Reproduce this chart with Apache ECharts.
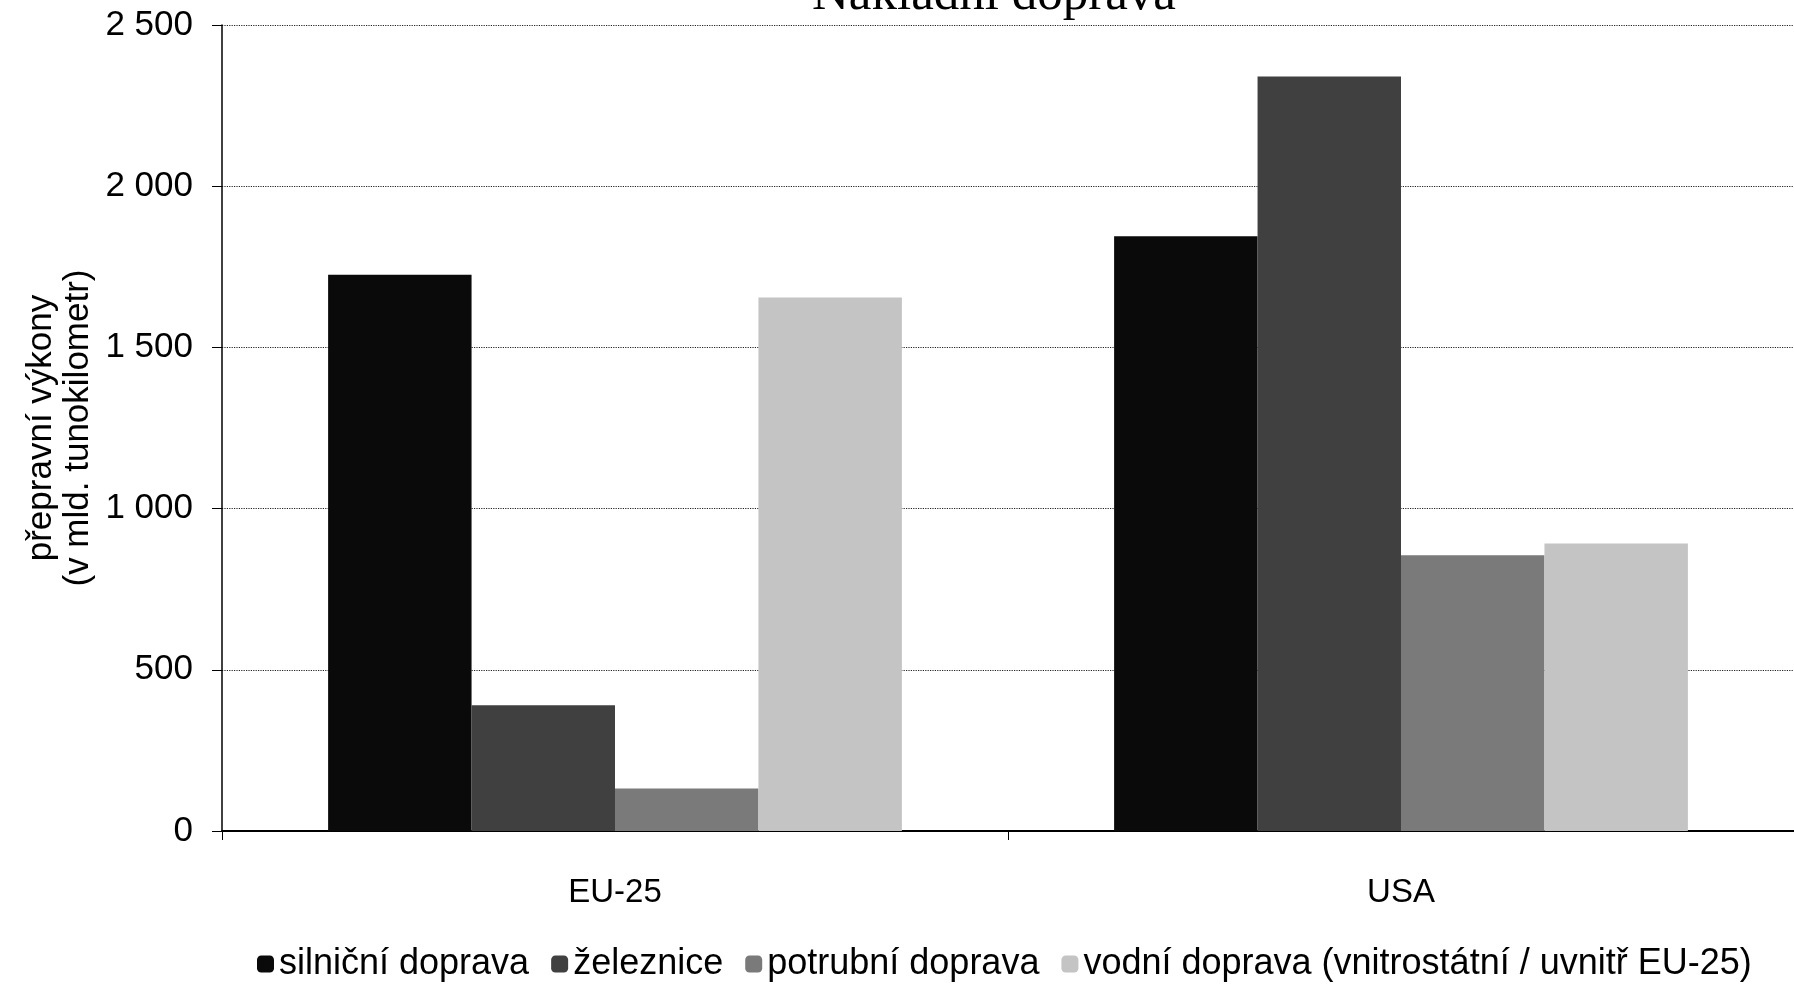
<!DOCTYPE html>
<html><head><meta charset="utf-8">
<script src="https://cdn.jsdelivr.net/npm/echarts@6/dist/echarts.min.js"></script>
<style>html,body{margin:0;padding:0;background:#fff}#c{width:1794px;height:985px}</style>
</head><body><div id="c"></div>
<script>
const categories = ['EU-25', 'USA'];
const seriesNames = ['silniční doprava', 'železnice', 'potrubní doprava', 'vodní doprava (vnitrostátní / uvnitř EU-25)'];
const silnicni = [1725, 1845];
const zeleznice = [390, 2340];
const potrubni = [132, 855];
const vodni = [1655, 892];
const seriesColors = ['#0a0a0a', '#404040', '#7a7a7a', '#c4c4c4'];
const yTicks = [0, 500, 1000, 1500, 2000, 2500];

const values = [silnicni, zeleznice, potrubni, vodni];
const font = 'Liberation Sans, Arial, sans-serif';
const chart = echarts.init(document.getElementById('c'));
chart.setOption({
  animation: false,
  title: {
    text: 'Nákladní doprava', left: 994, textAlign: 'center', top: -30, padding: 0,
    textStyle: {fontFamily: 'Liberation Serif, serif', fontSize: 51, fontWeight: 'normal', color: '#000'}
  },
  legend: {
    bottom: 3, left: 257, padding: 0, itemWidth: 17, itemHeight: 17, itemGap: 22,
    textStyle: {fontFamily: font, fontSize: 36, color: '#000'},
    data: seriesNames
  },
  grid: {left: 222, right: 0, top: 25, bottom: 154, containLabel: false, outerBoundsMode: 'none'},
  xAxis: {
    type: 'category', data: categories,
    axisLine: {lineStyle: {color: '#000', width: 2}},
    axisTick: {show: true, length: 9, lineStyle: {color: '#000'}},
    axisLabel: {fontFamily: font, fontSize: 33, color: '#000', margin: 45}
  },
  yAxis: {
    type: 'value', min: yTicks[0], max: yTicks[yTicks.length - 1], interval: 500,
    name: 'přepravní výkony\n(v mld. tunokilometr)', nameLocation: 'middle', nameGap: 125, nameRotate: 90,
    nameMoveOverlap: false,
    nameTextStyle: {fontFamily: font, fontSize: 35, color: '#000', lineHeight: 37},
    axisLine: {show: true, lineStyle: {color: '#000', width: 1.5}},
    axisTick: {show: true, length: 10, lineStyle: {color: '#000'}},
    axisLabel: {fontFamily: font, fontSize: 35, color: '#000', margin: 29,
      formatter: v => String(v).replace(/\B(?=(\d{3})+(?!\d))/g, ' ')},
    splitLine: {lineStyle: {color: '#222', type: 'dotted', width: 1.2}}
  },
  series: seriesNames.map((n, i) => ({
    name: n, type: 'bar', data: values[i],
    barGap: '0%', barCategoryGap: '27%',
    itemStyle: {color: seriesColors[i]}
  }))
});
</script></body></html>
